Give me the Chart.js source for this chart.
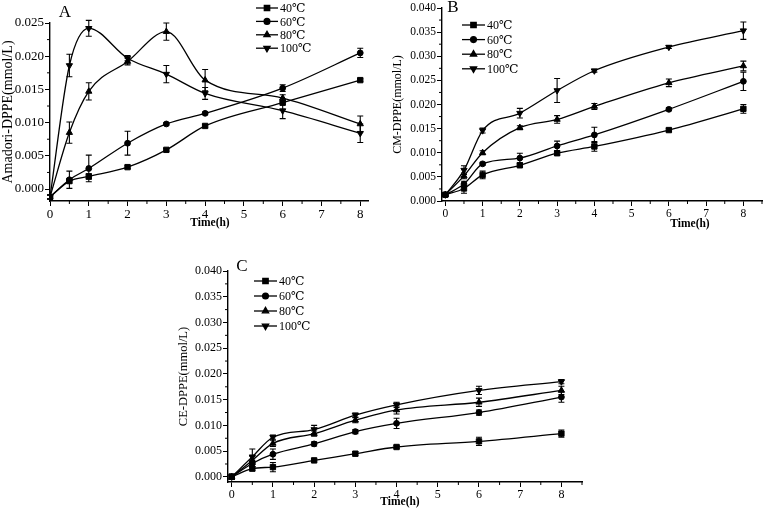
<!DOCTYPE html>
<html>
<head>
<meta charset="utf-8">
<script src="https://cdn.jsdelivr.net/npm/chart.js@4"></script>
<style>
  body { margin: 0; background: #fff; }
  #wrap { position: relative; width: 767px; height: 512px; background: #fff; }
  #wrap canvas { position: absolute; }
</style>
</head>
<body>
<div id="wrap">
  <canvas id="chartA" width="380" height="240" style="left:0;top:0"></canvas>
  <canvas id="chartB" width="377" height="240" style="left:390px;top:0"></canvas>
  <canvas id="chartC" width="420" height="257" style="left:175px;top:255px"></canvas>
</div>
<script>
// Sampling times (h) and series names
const times = [0, 0.5, 1, 2, 3, 4, 6, 8];
const seriesLabels = ["40℃", "60℃", "80℃", "100℃"];

// Panel A: Amadori-DPPE (mmol/L)
const a40 = [-0.0012, 0.0012, 0.0019, 0.0033, 0.0059, 0.0095, 0.0130, 0.0164];
const a60 = [-0.0012, 0.0014, 0.0031, 0.0069, 0.0098, 0.0114, 0.0152, 0.0205];
const a80 = [-0.0012, 0.0085, 0.0147, 0.0192, 0.0237, 0.0164, 0.0137, 0.0098];
const a100 = [-0.0012, 0.0186, 0.0242, 0.0197, 0.0173, 0.0144, 0.0118, 0.0084];
const a40Err = [0.0003, 0.0003, 0.0004, 0.0002, 0.0002, 0.0002, 0.0003, 0.0002];
const a60Err = [0.0003, 0.0013, 0.0020, 0.0018, 0.0002, 0.0002, 0.0005, 0.0007];
const a80Err = [0.0003, 0.0016, 0.0013, 0.0005, 0.0013, 0.0016, 0.0005, 0.0012];
const a100Err = [0.0003, 0.0017, 0.0012, 0.0004, 0.0013, 0.0009, 0.0012, 0.0014];

// Panel B: CM-DPPE (mmol/L)
const b40 = [0.0013, 0.0026, 0.0054, 0.0074, 0.0099, 0.0113, 0.0147, 0.0191];
const b60 = [0.0013, 0.0035, 0.0077, 0.0089, 0.0114, 0.0137, 0.0190, 0.0248];
const b80 = [0.0013, 0.0052, 0.0100, 0.0152, 0.0169, 0.0196, 0.0245, 0.0280];
const b100 = [0.0013, 0.0064, 0.0146, 0.0182, 0.0229, 0.0270, 0.0319, 0.0353];
const b40Err = [0.0002, 0.0010, 0.0008, 0.0003, 0.0004, 0.0010, 0.0003, 0.0009];
const b60Err = [0.0002, 0.0006, 0.0003, 0.0010, 0.0010, 0.0016, 0.0003, 0.0019];
const b80Err = [0.0002, 0.0006, 0.0004, 0.0004, 0.0008, 0.0006, 0.0008, 0.0010];
const b100Err = [0.0002, 0.0009, 0.0005, 0.0010, 0.0025, 0.0003, 0.0003, 0.0018];

// Panel C: CE-DPPE (mmol/L)
const c40 = [0, 0.0016, 0.0019, 0.0032, 0.0045, 0.0058, 0.0069, 0.0084];
const c60 = [0, 0.0026, 0.0044, 0.0064, 0.0088, 0.0104, 0.0125, 0.0155];
const c80 = [0, 0.0032, 0.0065, 0.0084, 0.0110, 0.0130, 0.0145, 0.0168];
const c100 = [0, 0.0039, 0.0077, 0.0092, 0.0120, 0.0140, 0.0168, 0.0185];
const c40Err = [0.0005, 0.0004, 0.0009, 0.0003, 0.0004, 0.0003, 0.0008, 0.0007];
const c60Err = [0.0005, 0.0006, 0.0010, 0.0004, 0.0004, 0.0010, 0.0005, 0.0010];
const c80Err = [0.0005, 0.0008, 0.0006, 0.0005, 0.0005, 0.0008, 0.0008, 0.0008];
const c100Err = [0.0005, 0.0015, 0.0004, 0.0008, 0.0004, 0.0005, 0.0008, 0.0004];

const SERIF = '"Liberation Serif", "DejaVu Serif", serif';
const markers = [
  { pointStyle: "rect", rotation: 0, radius: 3.8 },
  { pointStyle: "circle", rotation: 0, radius: 2.9 },
  { pointStyle: "triangle", rotation: 0, radius: 3.6 },
  { pointStyle: "triangle", rotation: 180, radius: 3.6 }
];

// error bars drawn from each dataset's "errors" array
const errorBars = {
  id: "errorBars",
  afterDatasetsDraw(chart) {
    const ctx = chart.ctx;
    const yScale = chart.scales.y;
    ctx.save();
    ctx.strokeStyle = "#000";
    ctx.lineWidth = 1.1;
    chart.data.datasets.forEach((ds, i) => {
      chart.getDatasetMeta(i).data.forEach((pt, j) => {
        const v = ds.data[j].y, e = ds.errors[j];
        const top = yScale.getPixelForValue(v + e);
        const bot = yScale.getPixelForValue(v - e);
        ctx.beginPath();
        ctx.moveTo(pt.x, top); ctx.lineTo(pt.x, bot);
        ctx.moveTo(pt.x - 3, top); ctx.lineTo(pt.x + 3, top);
        ctx.moveTo(pt.x - 3, bot); ctx.lineTo(pt.x + 3, bot);
        ctx.stroke();
      });
    });
    ctx.restore();
  }
};

// minor ticks, panel letter, x title and the in-plot legend
const panelDecor = {
  id: "panelDecor",
  afterDraw(chart, args, o) {
    const ctx = chart.ctx;
    const xs = chart.scales.x, ys = chart.scales.y;
    ctx.save();
    ctx.strokeStyle = "#000";
    ctx.fillStyle = "#000";
    ctx.lineWidth = 1;

    const minor = (scale, step, major, draw) => {
      for (let k = Math.ceil(scale.min / step); k * step <= scale.max + 1e-12; k++) {
        const v = k * step;
        const r = v / major;
        if (Math.abs(r - Math.round(r)) < 1e-6) continue;
        draw(scale.getPixelForValue(v));
      }
    };
    ctx.beginPath();
    minor(xs, o.minorX, o.majorX, px => { ctx.moveTo(px, xs.top); ctx.lineTo(px, xs.top + 3); });
    minor(ys, o.minorY, o.majorY, py => { ctx.moveTo(ys.right, py); ctx.lineTo(ys.right - 3, py); });
    ctx.stroke();

    ctx.textAlign = "center";
    ctx.textBaseline = "middle";
    ctx.font = "17px " + SERIF;
    ctx.fillText(o.letter, o.letterX, o.letterY);

    ctx.font = "bold " + o.xTitleSize + "px " + SERIF;
    ctx.fillText("Time(h)", o.xTitleX, o.xTitleY);

    ctx.textAlign = "left";
    ctx.font = o.legendSize + "px " + SERIF;
    ctx.lineWidth = 1.3;
    chart.data.datasets.forEach((ds, i) => {
      const y = o.legendY + i * o.legendGap;
      ctx.beginPath();
      ctx.moveTo(o.legendX, y);
      ctx.lineTo(o.legendX + o.legendLen, y);
      ctx.stroke();
      Chart.helpers.drawPoint(ctx, {
        pointStyle: ds.pointStyle, rotation: ds.pointRotation,
        radius: ds.pointRadius, borderWidth: 1
      }, o.legendX + o.legendLen / 2, y);
      ctx.fillText(ds.label, o.legendX + o.legendLen + 2, y + 1);
    });
    ctx.restore();
  }
};

function makeDatasets(values, errors) {
  return values.map((vals, i) => ({
    label: seriesLabels[i],
    data: times.map((t, j) => ({ x: t, y: vals[j] })),
    errors: errors[i],
    borderColor: "#000",
    backgroundColor: "#000",
    pointBackgroundColor: "#000",
    pointBorderColor: "#000",
    borderWidth: 1.3,
    pointStyle: markers[i].pointStyle,
    pointRotation: markers[i].rotation,
    pointRadius: markers[i].radius,
    pointBorderWidth: 1,
    cubicInterpolationMode: "monotone",
    fill: false
  }));
}

function makePanel(id, values, errors, p) {
  const ctx = document.getElementById(id).getContext("2d");
  return new Chart(ctx, {
    type: "line",
    data: { datasets: makeDatasets(values, errors) },
    options: {
      responsive: false,
      animation: false,
      events: [],
      layout: { padding: p.padding },
      scales: {
        x: {
          type: "linear",
          min: p.xMin, max: p.xMax,
          ticks: {
            stepSize: 1, includeBounds: false, color: "#000", padding: 1,
            maxRotation: 0, autoSkip: false,
            font: { family: SERIF, size: p.tickSize }
          },
          grid: { drawOnChartArea: false, drawTicks: true, tickLength: 5, color: "#000" },
          border: { color: "#000", width: 1.4 },
          afterFit: s => { s.height = p.xHeight; }
        },
        y: {
          min: p.yMin, max: p.yMax,
          ticks: {
            stepSize: 0.005, includeBounds: false, color: "#000", padding: 1,
            font: { family: SERIF, size: p.tickSize },
            callback: v => v.toFixed(3)
          },
          grid: { drawOnChartArea: false, drawTicks: true, tickLength: 5, color: "#000" },
          border: { color: "#000", width: 1.4 },
          title: {
            display: true, text: p.yTitle, color: "#000",
            font: { family: SERIF, size: p.yTitleSize },
            padding: { top: p.yTitlePad, bottom: 0 }
          },
          afterFit: s => { s.width = p.yWidth; }
        }
      },
      plugins: {
        legend: { display: false },
        tooltip: { enabled: false },
        panelDecor: p.decor
      }
    },
    plugins: [errorBars, panelDecor]
  });
}

makePanel("chartA", [a40, a60, a80, a100], [a40Err, a60Err, a80Err, a100Err], {
  padding: { left: 0, top: 23, right: 12, bottom: 0 },
  xMin: 0, xMax: 8.2, yMin: -0.0018, yMax: 0.025,
  xHeight: 39, yWidth: 50, tickSize: 13,
  yTitle: "Amadori-DPPE(mmol/L)", yTitleSize: 14, yTitlePad: 0,
  decor: {
    minorX: 0.5, majorX: 1, minorY: 0.0025, majorY: 0.005,
    letter: "A", letterX: 65, letterY: 13,
    xTitleX: 210, xTitleY: 223, xTitleSize: 11.5,
    legendX: 256, legendY: 8, legendGap: 13.4, legendLen: 22, legendSize: 12
  }
});

makePanel("chartB", [b40, b60, b80, b100], [b40Err, b60Err, b80Err, b100Err], {
  padding: { left: 0, top: 8, right: 2, bottom: 0 },
  xMin: -0.09, xMax: 8.5, yMin: 0, yMax: 0.04,
  xHeight: 39, yWidth: 52, tickSize: 11.5,
  yTitle: "CM-DPPE(mmol/L)", yTitleSize: 12, yTitlePad: 1,
  decor: {
    minorX: 0.5, majorX: 1, minorY: 0.0025, majorY: 0.005,
    letter: "B", letterX: 63, letterY: 8,
    xTitleX: 300, xTitleY: 224, xTitleSize: 11.5,
    legendX: 72, legendY: 25, legendGap: 14.6, legendLen: 23, legendSize: 12
  }
});

makePanel("chartC", [c40, c60, c80, c100], [c40Err, c60Err, c80Err, c100Err], {
  padding: { left: 0, top: 16, right: 13, bottom: 0 },
  xMin: -0.09, xMax: 8.5, yMin: -0.001, yMax: 0.04,
  xHeight: 30, yWidth: 53, tickSize: 12,
  yTitle: "CE-DPPE(mmol/L)", yTitleSize: 12.5, yTitlePad: 1,
  decor: {
    minorX: 0.5, majorX: 1, minorY: 0.0025, majorY: 0.005,
    letter: "C", letterX: 67, letterY: 12,
    xTitleX: 225, xTitleY: 247, xTitleSize: 11.5,
    legendX: 79, legendY: 26, legendGap: 15, legendLen: 23, legendSize: 12
  }
});
</script>
</body>
</html>
